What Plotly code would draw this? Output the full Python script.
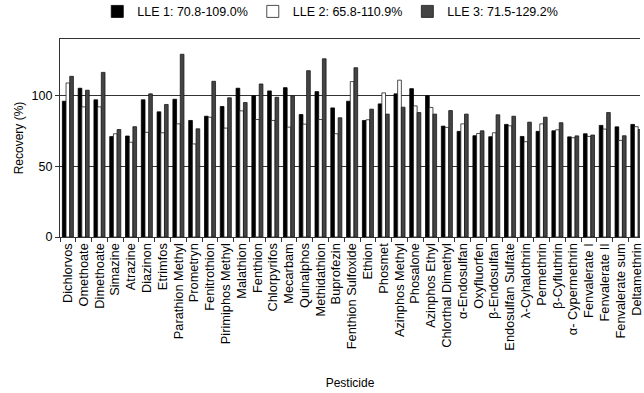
import plotly.graph_objects as go

# Pesticides in elution order
pesticides = [
    "Dichlorvos", "Omethoate", "Dimethoate", "Simazine", "Atrazine", "Diazinon",
    "Etrimfos", "Parathion Methyl", "Prometryn", "Fenitrothion", "Pirimiphos Methyl",
    "Malathion", "Fenthion", "Chlorpyrifos", "Mecarbam", "Quinalphos", "Methidathion",
    "Buprofezin", "Fenthion Sulfoxide", "Ethion", "Phosmet", "Azinphos Methyl",
    "Phosalone", "Azinphos Ethyl", "Chlorthal Dimethyl", "α-Endosulfan", "Oxyfluorfen",
    "β-Endosulfan", "Endosulfan Sulfate", "λ-Cyhalothrin", "Permethrin", "β-Cyfluthrin",
    "α- Cypermethrin", "Fenvalerate I", "Fenvalerate II", "Fenvalerate sum", "Deltamethrin",
]

# Recovery (%) for each extraction
lle1 = [96.0, 105.2, 97.0, 71.0, 71.4, 97.0, 88.5, 97.4, 82.4, 85.4, 92.3, 105.2, 99.8,
        103.3, 105.6, 86.6, 102.8, 91.3, 96.0, 82.4, 94.1, 101.2, 104.9, 99.8, 78.4,
        74.7, 71.6, 70.9, 79.6, 71.1, 74.7, 75.1, 70.8, 73.0, 78.9, 77.9, 79.6]
lle2 = [108.9, 92.0, 92.0, 73.0, 67.0, 74.0, 73.7, 80.0, 65.8, 84.7, 77.0, 89.2, 83.1,
        82.4, 77.7, 79.8, 83.1, 73.0, 109.9, 82.9, 101.9, 110.9, 92.7, 91.6, 77.5,
        80.0, 73.2, 73.7, 78.6, 67.4, 80.0, 75.8, 70.2, 71.1, 76.3, 68.3, 78.0]
lle3 = [113.6, 103.8, 116.4, 76.0, 78.0, 101.2, 93.7, 129.2, 76.5, 110.1, 98.4, 95.1, 108.2,
        98.8, 99.8, 117.6, 126.0, 84.3, 119.7, 90.4, 86.9, 91.8, 88.0, 86.9, 89.4,
        86.9, 75.1, 86.4, 85.4, 81.2, 84.7, 80.8, 71.5, 72.1, 88.0, 71.6, 76.0]

series_names = ["LLE 1: 70.8-109.0%", "LLE 2: 65.8-110.9%", "LLE 3: 71.5-129.2%"]
fills = ["#000000", "#ffffff", "#444444"]
edges = ["#000000", "#222222", "#1a1a1a"]

fig = go.Figure()
for name, vals, fc, ec in zip(series_names, [lle1, lle2, lle3], fills, edges):
    fig.add_trace(go.Bar(
        x=pesticides, y=vals, name=name,
        marker=dict(color=fc, line=dict(color=ec, width=0.8)),
    ))

font_family = "Arial, Liberation Sans, sans-serif"

fig.update_layout(
    width=644, height=393,
    margin=dict(l=60, r=0, t=39, b=156),
    paper_bgcolor="white", plot_bgcolor="white",
    barmode="group", bargap=0.3, bargroupgap=0,
    font=dict(family=font_family, size=12, color="black"),
    legend=dict(
        orientation="h", x=0.466, xanchor="center",
        yref="container", y=0.97, yanchor="middle",
        font=dict(size=12.5), itemwidth=30, traceorder="normal",
    ),
    xaxis=dict(
        title=dict(text="Pesticide", font=dict(size=12), standoff=28),
        range=[-0.5, 36.23],
        tickmode="array", tickvals=pesticides, ticktext=pesticides,
        showline=True, linecolor="#333333", linewidth=1.2, mirror=True,
        ticks="outside", tickson="boundaries", ticklen=4, tickcolor="#333333",
        tickangle=-90, tickfont=dict(size=12.8),
        showgrid=False,
    ),
    yaxis=dict(
        title=dict(text="Recovery (%)", font=dict(size=12), standoff=5),
        range=[0, 140], tickvals=[0, 50, 100],
        showline=True, linecolor="#333333", linewidth=1.2, mirror=False,
        ticks="outside", ticklen=4, tickcolor="#333333",
        showgrid=True, gridcolor="#333333", gridwidth=1,
        zeroline=False, tickfont=dict(size=12.5),
    ),
)

fig.write_html("out.html")
